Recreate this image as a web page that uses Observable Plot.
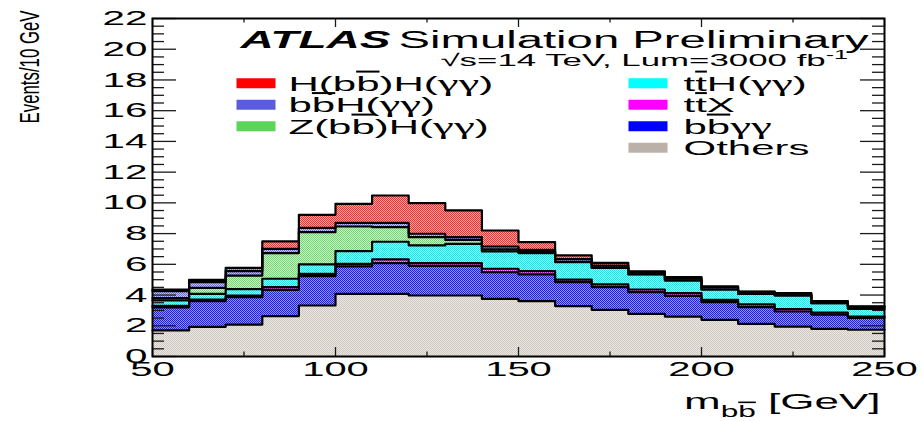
<!DOCTYPE html>
<html>
<head>
<meta charset="utf-8">
<script src="https://cdn.jsdelivr.net/npm/d3@7"></script>
<script src="https://cdn.jsdelivr.net/npm/@observablehq/plot@0.6"></script>
<style>
  html, body { margin: 0; padding: 0; background: #ffffff; }
  #chart { width: 922px; height: 421px; }
</style>
</head>
<body>
<div id="chart"></div>
<script>
// ---------------- DATA ----------------
// bin edges of m_bb (GeV)
const binLow  = [50, 60, 70, 80, 90, 100, 110, 120, 130, 140, 150, 160, 170, 180, 190, 200, 210, 220, 230, 240];
const binHigh = [60, 70, 80, 90, 100, 110, 120, 130, 140, 150, 160, 170, 180, 190, 200, 210, 220, 230, 240, 250];

// events / 10 GeV per process (stack order bottom -> top)
const others = [1.70, 1.93, 2.08, 2.63, 3.32, 4.08, 4.08, 3.97, 3.97, 3.75, 3.60, 3.28, 3.04, 2.78, 2.60, 2.39, 2.13, 1.95, 1.80, 1.74];
const bbgg   = [1.50, 1.67, 1.78, 1.71, 1.91, 1.78, 2.00, 1.93, 1.93, 1.74, 1.74, 1.56, 1.47, 1.41, 1.35, 1.15, 1.08, 0.98, 0.93, 0.78];
const ttX    = [0.10, 0.11, 0.11, 0.17, 0.15, 0.17, 0.24, 0.18, 0.18, 0.22, 0.22, 0.17, 0.18, 0.17, 0.17, 0.15, 0.18, 0.15, 0.13, 0.08];
const ttH    = [0.35, 0.37, 0.41, 0.55, 0.61, 0.83, 1.15, 1.15, 1.25, 1.13, 1.17, 1.13, 1.08, 0.99, 0.83, 0.67, 0.69, 0.89, 0.61, 0.50];
const zh     = [0.15, 0.39, 0.89, 1.67, 2.10, 1.60, 0.95, 0.54, 0.26, 0.13, 0.06, 0.02, 0.01, 0.01, 0.01, 0.00, 0.00, 0.00, 0.00, 0.00];
const bbh    = [0.45, 0.37, 0.29, 0.28, 0.28, 0.24, 0.28, 0.22, 0.18, 0.19, 0.15, 0.18, 0.14, 0.12, 0.15, 0.15, 0.12, 0.12, 0.10, 0.13];
const hh     = [0.10, 0.15, 0.21, 0.48, 0.85, 1.24, 1.78, 1.99, 1.74, 1.04, 0.50, 0.24, 0.18, 0.07, 0.05, 0.05, 0.03, 0.03, 0.03, 0.03];

// process labels (markup: ~{..} overline, _{..} subscript, ^{..} superscript)
const processNames = ["Others", "b~{b}γγ", "t~{t}X", "t~{t}H(γγ)", "Z(b~{b})H(γγ)", "b~{b}H(γγ)", "H(b~{b})H(γγ)"];
const legendLeft  = ["H(b~{b})H(γγ)", "b~{b}H(γγ)", "Z(b~{b})H(γγ)"];
const legendRight = ["t~{t}H(γγ)", "t~{t}X", "b~{b}γγ", "Others"];

// axis ticks / labels
const xTicksMajor = [50, 100, 150, 200, 250];
const xTicksMinor = [75, 125, 175, 225];
const yTicksMajor = [0, 2, 4, 6, 8, 10, 12, 14, 16, 18, 20, 22];

const titleBold = "ATLAS";
const titleRest = "Simulation Preliminary";
const lumiText  = "√s=14 TeV, Lum=3000 fb^{-1}";
const xTitle = "m_{b~{b}} [GeV]";
const yTitle = "Events/10 GeV";

// ---------------- STYLE ----------------
const W = 922, H = 421, ML = 152, MR = 38, MT = 18, MB = 65;
const plotW = W - ML - MR, plotH = H - MT - MB;
const FONT = "'Liberation Sans', Arial, Helvetica, sans-serif";
const GREEK_FONT = "'Liberation Serif', 'DejaVu Serif', serif";
// checker-pattern fills (dark dots on light tint), same order as processNames
const fillDark  = ["#cfc8c1", "#2020ee", "#ee00ee", "#00f2f2", "#6ed86e", "#6e6ee4", "#f43030"];
const fillLight = ["#ebe7e3", "#9292fa", "#ffa8ff", "#a4ffff", "#ccf2cc", "#c6c6f4", "#ffaaaa"];
const legendSolid = ["#bbb1a8", "#0000ff", "#ff00ff", "#00ffff", "#5ad65a", "#5b5bde", "#ff0000"];

// ---------------- STACK ----------------
const seriesList = [others, bbgg, ttX, ttH, zh, bbh, hh];
const table = binLow.map((lo, i) => {
  const row = {lo, hi: binHigh[i]};
  processNames.forEach((p, k) => row[p] = seriesList[k][i]);
  return row;
});
const stacked = d3.stack().keys(processNames)(table);
const stepPts = [];
stacked.forEach((layer) => layer.forEach((seg) => {
  stepPts.push({proc: layer.key, x: seg.data.lo, y1: seg[0], y2: seg[1]});
  stepPts.push({proc: layer.key, x: seg.data.hi, y1: seg[0], y2: seg[1]});
}));

// ---------------- MARKS ----------------
const swatchSymbol = {draw(ctx) { ctx.rect(-19.5, -5, 39, 10); }};
const marks = [];

processNames.forEach((p, k) => {
  marks.push(Plot.areaY(stepPts.filter(d => d.proc === p), {x: "x", y1: "y1", y2: "y2", fill: `url(#pat${k})`}));
});
marks.push(Plot.line(stepPts, {x: "x", y: "y2", z: "proc", stroke: "#000", strokeWidth: 2.2}));

// inward ticks on all four sides
const tickStyle = {stroke: "#1a1a1a", strokeWidth: 1.3};
marks.push(Plot.ruleX(xTicksMajor, {x: d => d, insetTop: plotH - 9, ...tickStyle}));
marks.push(Plot.ruleX(xTicksMinor, {x: d => d, insetTop: plotH - 4.5, ...tickStyle}));
marks.push(Plot.ruleX(xTicksMajor, {x: d => d, insetBottom: plotH - 9, ...tickStyle}));
marks.push(Plot.ruleX(xTicksMinor, {x: d => d, insetBottom: plotH - 4.5, ...tickStyle}));
const yTicksMinor = d3.range(0, 22, 0.5).filter(v => !yTicksMajor.includes(v));
marks.push(Plot.ruleY(yTicksMajor, {y: d => d, insetRight: plotW - 24, ...tickStyle}));
marks.push(Plot.ruleY(yTicksMinor, {y: d => d, insetRight: plotW - 12, ...tickStyle}));
marks.push(Plot.ruleY(yTicksMajor, {y: d => d, insetLeft: plotW - 24, ...tickStyle}));
marks.push(Plot.ruleY(yTicksMinor, {y: d => d, insetLeft: plotW - 12, ...tickStyle}));
marks.push(Plot.frame({stroke: "#000", strokeWidth: 2}));

// tick labels
marks.push(Plot.text(yTicksMajor, {y: d => d, frameAnchor: "left", dx: -5, textAnchor: "end", lineAnchor: "middle", text: d => String(d), fontSize: 20.5, ariaDescription: "sx:1.97"}));
marks.push(Plot.text(xTicksMajor, {x: d => d, frameAnchor: "bottom", dy: 13, textAnchor: "middle", lineAnchor: "middle", text: d => String(d), fontSize: 20.5, ariaDescription: "sx:1.95"}));

// axis titles
marks.push(Plot.text([xTitle], {frameAnchor: "bottom-right", dx: -4, dy: 52, textAnchor: "end", lineAnchor: "bottom", text: d => d, fontSize: 22, ariaDescription: "sx:2.0"}));
marks.push(Plot.text([yTitle], {frameAnchor: "top-left", textAnchor: "end", lineAnchor: "bottom", text: d => d, fontSize: 28, ariaDescription: "ytitle"}));

// ATLAS label
marks.push(Plot.text([titleBold], {frameAnchor: "top-left", dx: 240 - ML, dy: 47 - MT, textAnchor: "start", lineAnchor: "bottom", text: d => d, fontSize: 24, fontWeight: "bold", fontStyle: "italic", ariaDescription: "sx:1.92"}));
marks.push(Plot.text([titleRest], {frameAnchor: "top-left", dx: 398 - ML, dy: 47 - MT, textAnchor: "start", lineAnchor: "bottom", text: d => d, fontSize: 24, ariaDescription: "sx:1.97"}));
marks.push(Plot.text([lumiText], {frameAnchor: "top-left", dx: 440 - ML, dy: 65 - MT, textAnchor: "start", lineAnchor: "bottom", text: d => d, fontSize: 17, ariaDescription: "sx:2.05"}));

// legend
const legendCols = [
  {items: legendLeft, swatchX: 255.5 - ML, textX: 288 - ML},
  {items: legendRight, swatchX: 647.5 - ML, textX: 683 - ML}
];
legendCols.forEach(col => col.items.forEach((name, r) => {
  const k = processNames.indexOf(name);
  const cy = 82.75 + 21.5 * r - MT;
  marks.push(Plot.dot([name], {frameAnchor: "top-left", dx: col.swatchX, dy: cy, symbol: swatchSymbol, fill: legendSolid[k], stroke: "none"}));
  marks.push(Plot.text([name], {frameAnchor: "top-left", dx: col.textX, dy: cy + 1, textAnchor: "start", lineAnchor: "middle", text: d => d, fontSize: 20, ariaDescription: "sx:2.1"}));
}));

const svg = Plot.plot({
  width: W, height: H,
  marginLeft: ML, marginRight: MR, marginTop: MT, marginBottom: MB,
  x: {domain: [50, 250], axis: null},
  y: {domain: [0, 22], axis: null},
  style: {fontFamily: FONT, background: "#ffffff", color: "#000", overflow: "visible"},
  marks
});
document.getElementById("chart").appendChild(svg);

// ---------------- POST: patterns, rich text, stretch ----------------
const defs = d3.select(svg).insert("defs", ":first-child");
processNames.forEach((p, k) => {
  const pat = defs.append("pattern").attr("id", `pat${k}`).attr("patternUnits", "userSpaceOnUse").attr("width", 2).attr("height", 2);
  pat.append("rect").attr("width", 2).attr("height", 2).attr("fill", fillLight[k]);
  pat.append("rect").attr("width", 1).attr("height", 1).attr("fill", fillDark[k]);
  pat.append("rect").attr("x", 1).attr("y", 1).attr("width", 1).attr("height", 1).attr("fill", fillDark[k]);
});

const NS = "http://www.w3.org/2000/svg";
function buildRich(parent, s) {
  let buf = "";
  const flush = () => { if (buf) { parent.appendChild(document.createTextNode(buf)); buf = ""; } };
  let i = 0;
  while (i < s.length) {
    const c = s[i];
    if ((c === "_" || c === "^" || c === "~") && s[i + 1] === "{") {
      let depth = 0, j = i + 1;
      for (; j < s.length; j++) {
        if (s[j] === "{") depth++;
        else if (s[j] === "}") { depth--; if (depth === 0) break; }
      }
      flush();
      const ts = document.createElementNS(NS, "tspan");
      if (c === "~") ts.setAttribute("text-decoration", "overline");
      else { ts.setAttribute("font-size", "72%"); ts.setAttribute("baseline-shift", c === "_" ? "sub" : "super"); }
      buildRich(ts, s.slice(i + 2, j));
      parent.appendChild(ts);
      i = j + 1;
    } else if (c === "γ") {
      flush();
      const ts = document.createElementNS(NS, "tspan");
      ts.style.fontFamily = GREEK_FONT;
      ts.style.fontSize = "1.12em";
      ts.textContent = c;
      parent.appendChild(ts);
      i++;
    } else { buf += c; i++; }
  }
  flush();
}
svg.querySelectorAll("text").forEach(t => {
  const s = t.textContent;
  if (/[_^~]\{|γ/.test(s)) { t.textContent = ""; buildRich(t, s); }
});
function stretchX(t, sx) {
  const ax = parseFloat(t.getAttribute("x")) || 0;
  const tr = t.getAttribute("transform") || "";
  t.setAttribute("transform", `${tr} translate(${ax},0) scale(${sx},1) translate(${-ax},0)`);
}
svg.querySelectorAll('[aria-description^="sx:"]').forEach(g => {
  const sx = +g.getAttribute("aria-description").slice(3);
  g.querySelectorAll("text").forEach(t => stretchX(t, sx));
});
// y-axis title: rotated, condensed along its length like the reference
svg.querySelectorAll('[aria-description="ytitle"] text').forEach(t => {
  t.setAttribute("transform", `translate(38,10) rotate(-90) scale(0.6,1)`);
});
</script>
</body>
</html>
